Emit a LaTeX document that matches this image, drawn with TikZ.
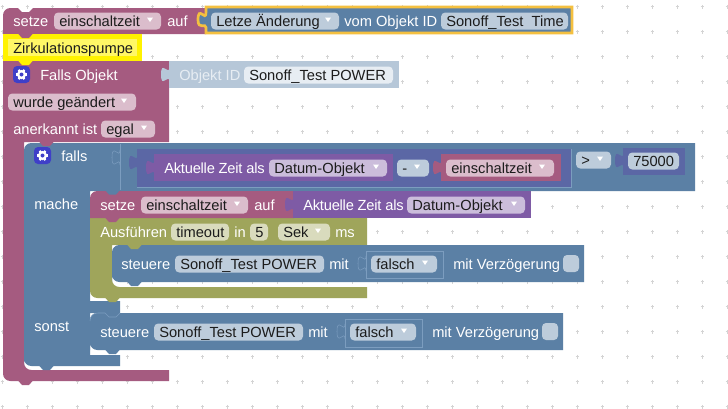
\documentclass[tikz,border=0pt]{standalone}
\usepackage{fontspec}
\setmainfont{Liberation Sans}
\definecolor{cPink}{HTML}{A55B80}
\definecolor{cBlue}{HTML}{5B80A5}
\definecolor{cIndigo}{HTML}{5B67A5}
\definecolor{cPurple}{HTML}{7E5BA5}
\definecolor{cOlive}{HTML}{9FA55B}
\definecolor{cPinkF}{HTML}{DBBDCC}
\definecolor{cBlueF}{HTML}{BDCCDB}
\definecolor{cOliveF}{HTML}{D9DBBD}
\definecolor{cPurpleF}{HTML}{CBBDDB}
\definecolor{cGhost}{HTML}{B6C7D8}
\definecolor{cGhostF}{HTML}{E7EDF3}
\definecolor{cEdge}{HTML}{7C9DBF}
\definecolor{cGold}{HTML}{F4C040}
\definecolor{cIcon}{HTML}{3F3FC8}
\definecolor{cGrid}{HTML}{D4D4D4}
\definecolor{cInk}{HTML}{1C1C1C}
\tikzset{
  lbl/.style={font=\fontsize{11}{13}\selectfont,text=white,inner sep=0pt,anchor=base west},
  ink/.style={lbl,text=cInk},
  edgeline/.style={cEdge,line width=.4pt},
}
% field pill with text: name, x0, x1, yc, fill, text
\newcommand{\fld}[6]{%
  \fill[#5,rounded corners=3.2pt] (#2,#4-8.5) rectangle (#3,#4+8.5);
  \node[ink] (#1) at (#2+5,#4+5) {#6};}
% dropdown triangle: x, yc
\newcommand{\drop}[2]{\fill[white] (#1-3,#2-2.5) -- (#1+3,#2-2.5) -- (#1,#2+2) -- cycle;}
% text label
\newcommand{\lab}[4]{\node[lbl] (#1) at (#2,#3+5) {#4};}
% puzzle tab on left edge: x, y, colour
\newcommand{\tabb}[3]{\fill[#3] (#1+.5,#2) .. controls (#1,#2+10) and (#1-8,#2-8) .. (#1-8,#2+7.5) .. controls (#1-8,#2+23) and (#1,#2+5) .. (#1+.5,#2+15) -- cycle;}
% open notch outline: x, y
\newcommand{\tabline}[2]{\draw[edgeline] (#1,#2) .. controls (#1,#2+10) and (#1-8,#2-8) .. (#1-8,#2+7.5) .. controls (#1-8,#2+23) and (#1,#2+5) .. (#1,#2+15);}
% statement bump: x, y, colour
\newcommand{\bump}[3]{\fill[#3] (#1,#2-.5) -- (#1+4,#2+4) -- (#1+11,#2+4) -- (#1+15,#2-.5) -- cycle;}
% checkbox
\newcommand{\chk}[2]{\fill[cBlueF,rounded corners=3pt] (#1,#2) rectangle (#1+16,#2+17);}
% settings icon: x, y
\newcommand{\gear}[2]{%
  \fill[cIcon,rounded corners=3pt] (#1,#2) rectangle (#1+17,#2+17);
  \foreach \a in {0,60,120}{\draw[white,line width=1.6pt] ([shift={(\a:5.5)}]#1+8.5,#2+8.5) -- ([shift={(\a+180:5.5)}]#1+8.5,#2+8.5);}
  \fill[white] (#1+8.5,#2+8.5) circle[radius=4.6];
  \fill[cIcon] (#1+8.5,#2+8.5) circle[radius=2];}
\newcommand{\tight}[1]{{\addfontfeature{LetterSpace=-1.5}#1}}
\begin{document}
\begin{tikzpicture}[x=0.75pt,y=-0.75pt]
\useasboundingbox (0,0) rectangle (728,408);
\fill[white] (0,0) rectangle (728,408);
% workspace grid
\foreach \i in {0,...,29}{\foreach \j in {0,...,16}{
  \draw[cGrid,line width=.35pt] (2.5+25*\i-1.8,6.7+25*\j) -- ++(3.6,0) (2.5+25*\i,6.7+25*\j-1.8) -- ++(0,3.6);}}

% ---- top: setze ... auf
\fill[cPink] (3,34) [rounded corners=5.5pt] -- (3,8) [sharp corners] -- (18,8) -- (22,12) -- (29,12) -- (33,8) -- (206,8) -- (206,34) -- cycle;
\draw[cGold,line width=2pt,fill=cBlue] (206,7) -- (572,7) -- (572,33) -- (206,33) -- (206,27.5)
   .. controls (206,22.5) and (198,30.5) .. (198,20) .. controls (198,4.5) and (206,22.5) .. (206,12.5) -- cycle;
\lab{tZ}{13}{21}{setze}
\fld{fA}{54}{161}{21}{cPinkF}{einschaltzeit}\drop{150}{20}
\lab{tA}{167}{21}{auf}
\fld{fB}{211}{339}{21}{cBlueF}{Letze Änderung}\drop{328}{20}
\lab{tB}{344}{21}{vom Objekt ID}
\fld{fC}{441}{568}{21}{cBlueF}{Sonoff\_Test\ \ Time}

% ---- comment
\fill[yellow] (3,34) rectangle (142,61);
\fill[yellow!60!white] (8,39) rectangle (137,56);
\bump{18}{34}{cPink}
\node[ink] (note) at (13,53) {Zirkulationspumpe};

% ---- Falls Objekt
\fill[cPink] (3,61) -- (169,61) -- (169,142) -- (24,142) [rounded corners=5.5pt] -- (24,370) [sharp corners] -- (169,370) -- (169,381) [rounded corners=5.5pt] -- (3,381) [sharp corners] -- cycle;
\bump{18}{61}{yellow}
\bump{18}{381}{cPink}
\gear{13}{66}
\lab{tC}{40}{75}{Falls Objekt}
\fld{fD}{8}{136}{102}{cPinkF}{wurde geändert}\drop{124}{101}
\lab{tD}{13}{129}{anerkannt ist}
\fld{fE}{101}{155}{129}{cPinkF}{egal}\drop{144}{128}
% ghost input
\fill[cGhost] (169,61) rectangle (399,88);
\tabb{169}{67}{cGhost}
\lab{tE}{179}{75}{\textcolor{cGhostF}{Objekt ID}}
\fld{fF}{244}{393}{75}{cGhostF}{Sonoff\_Test POWER}

% ---- falls block
\fill[cBlue] (24,366) [rounded corners=5.5pt] -- (24,143) [sharp corners] -- (695,143) -- (695,191) -- (90,191) -- (90,301) -- (120,301) -- (120,313) -- (90,313) -- (90,355) -- (120,355) -- (120,366) [rounded corners=5.5pt] -- (24,366) [sharp corners] -- cycle;
\draw[edgeline] (120,144) -- (120,190);
\tabline{120}{150}
\bump{39}{142}{cPink}
\bump{39}{366}{cBlue}
\gear{34}{147}
\lab{tF}{61}{156}{falls}
\lab{tG}{34}{204}{mache}
\lab{tH}{34}{326}{sonst}
% condition
\fill[cIndigo] (137,149) rectangle (571,187);
\draw[edgeline] (137,187) -- (571,187) -- (571,149);
\tabb{137}{155}{cIndigo}
\fill[cPurple] (154,154) rectangle (393,181);
\tabb{154}{160}{cPurple}
\lab{tI}{164}{168}{\tight{Aktuelle Zeit als}}
\fld{fG}{269}{387}{168}{cPurpleF}{Datum-Objekt}\drop{376}{167}
\fld{fH}{397}{429}{168}{cBlueF}{-}\drop{417}{167}
\fill[cPink] (441,154) rectangle (561,181);
\tabb{441}{160}{cPink}
\fld{fI}{446}{554}{168}{cPinkF}{einschaltzeit}\drop{542}{167}
\fld{fJ}{576}{611}{160}{cBlueF}{>}\drop{600}{159}
\fill[cIndigo] (623,148) rectangle (685,175);
\tabb{623}{153}{cIndigo}
\fld{fK}{628}{679}{161}{cBlueF}{75000}

% ---- olive timeout
\fill[cOlive] (90,218) -- (367,218) -- (367,245) -- (112,245) [rounded corners=5.5pt] -- (112,287) [sharp corners] -- (367,287) -- (367,298) [rounded corners=5.5pt] -- (90,298) [sharp corners] -- cycle;
\bump{105}{298}{cOlive}
\lab{tJ}{100}{232}{Ausführen}
\fld{fL}{171}{229}{232}{cOliveF}{timeout}
\lab{tK}{234}{232}{in}
\fld{fM}{250}{268}{232}{cOliveF}{5}
\fld{fN}{278}{330}{232}{cOliveF}{Sek}\drop{318}{231}
\lab{tL}{335}{232}{ms}

% ---- setze row
\fill[cPink] (90,218) [rounded corners=5.5pt] -- (90,191) [sharp corners] -- (294,191) -- (294,218) -- cycle;
\bump{105}{190.5}{cBlue}
\bump{105}{218}{cPink}
\lab{tM}{100}{205}{setze}
\fld{fO}{141}{248}{205}{cPinkF}{einschaltzeit}\drop{237}{204}
\lab{tN}{254}{205}{auf}
\fill[cPurple] (293,191) rectangle (531,218);
\tabb{293}{197}{cPurple}
\lab{tO}{303}{205}{\tight{Aktuelle Zeit als}}
\fld{fP}{407}{525}{205}{cPurpleF}{Datum-Objekt}\drop{514}{204}

% ---- steuere 1
\fill[cBlue] (112,282) [rounded corners=5.5pt] -- (112,245) [sharp corners] -- (584,245) -- (584,282) [rounded corners=5.5pt] -- (112,282) [sharp corners] -- cycle;
\bump{127}{245}{cOlive}
\bump{127}{282}{cBlue}
\lab{tP}{121}{264}{steuere}
\fld{fQ}{175}{324}{264}{cBlueF}{Sonoff\_Test POWER}
\lab{tQ}{329}{264}{mit}
\draw[edgeline] (366,251) rectangle (443,278);
\tabline{366}{256}
\fld{fR}{371}{437}{264}{cBlueF}{falsch}\drop{425}{263}
\lab{tR}{453}{264}{mit Verzögerung}
\chk{563}{255}

% ---- steuere 2
\fill[cBlue] (90,350) [rounded corners=5.5pt] -- (90,313) [sharp corners] -- (563,313) -- (563,350) [rounded corners=5.5pt] -- (90,350) [sharp corners] -- cycle;
\draw[edgeline] (90,321) .. controls (90,316) and (93,313) .. (98,313) -- (105,313) -- (109,317) -- (116,317) -- (120,313);
\bump{105}{350}{cBlue}
\lab{tS}{100}{332}{steuere}
\fld{fS}{154}{303}{332}{cBlueF}{Sonoff\_Test POWER}
\lab{tT}{308}{332}{mit}
\draw[edgeline] (345,319) rectangle (422,347);
\tabline{345}{324}
\fld{fT}{350}{416}{332}{cBlueF}{falsch}\drop{404}{331}
\lab{tU}{432}{332}{mit Verzögerung}
\chk{542}{323}
\end{tikzpicture}
\end{document}
